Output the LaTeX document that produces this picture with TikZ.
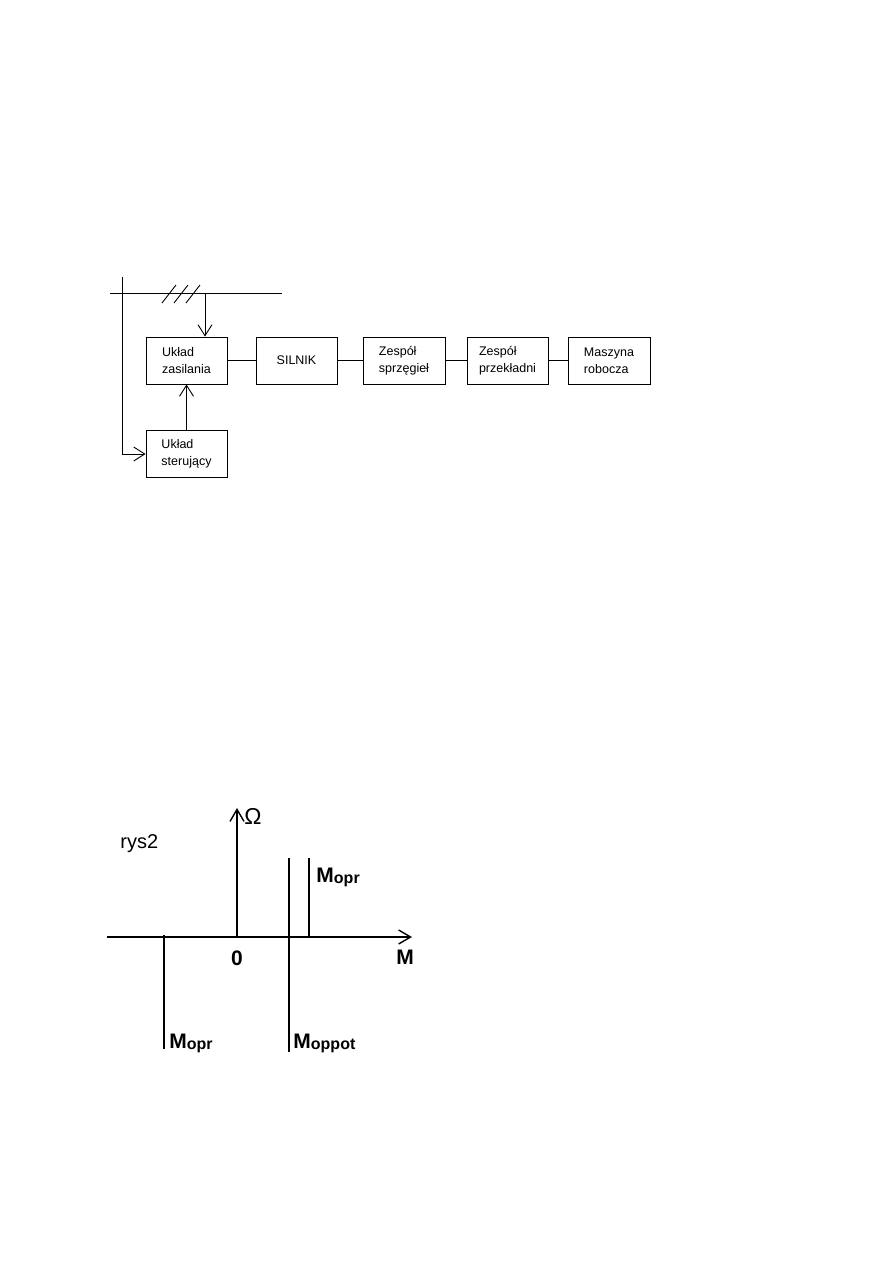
\documentclass[tikz,border=0pt]{standalone}
\usepackage{fontspec}
\setmainfont{Liberation Sans}
\usepackage{tikz}
\usetikzlibrary{arrows.meta, calc, positioning}

\begin{document}
\begin{tikzpicture}[x=1pt, y=-1pt, line width=0.9pt,
    blok/.style={draw, minimum width=81pt, minimum height=47pt, inner sep=0pt,
        align=left, font=\fontsize{12.5}{17}\selectfont},
    strz/.style={-{Straight Barb[length=11pt, width=14pt, line width=0.9pt]}},
    os/.style={line width=2pt, -{Straight Barb[length=12pt, width=14pt, line width=1.4pt]}},
    kreska/.style={line width=2pt},
    etyk/.style={font=\fontsize{21}{21}\selectfont\bfseries, inner sep=0pt, anchor=base west},
    indeks/.style={font=\fontsize{16}{16}\selectfont\bfseries}]
    \useasboundingbox (0, 0) rectangle (893, 1263);

    % schemat blokowy
    \node[blok] (zas) at (186.5, 360.5) {Układ\\zasilania};
    \node[blok] (sil) at (296.5, 360.5) {SILNIK};
    \node[blok, minimum width=82pt] (sprz) at (404, 360.5) {Zespół\\sprzęgieł};
    \node[blok] (przek) at (507.5, 360.5) {Zespół\\przekładni};
    \node[blok, minimum width=82pt] (masz) at (609, 360.5) {Maszyna\\robocza};
    \node[blok] (ster) at (186.5, 454) {Układ\\sterujący};

    % linie miedzy blokami
    \draw (zas.east) -- (sil.west);
    \draw (sil.east) -- (sprz.west);
    \draw (sprz.east) -- (przek.west);
    \draw (przek.east) -- (masz.west);

    % siec zasilajaca
    \coordinate (sieL) at (110, 293);
    \coordinate (sieP) at (282, 293);
    \coordinate (odg) at (205, 293);
    \coordinate (lewyG) at (122, 277);
    \draw (sieL) -- (sieP);
    \foreach \dx in {0, 12, 24}
        \draw ($(162, 303) + (\dx, 0)$) -- ++(14, -18);
    \draw[strz] (odg) -- (odg |- zas.north);
    \draw[strz] (lewyG) |- (ster.west);
    \draw[strz] (ster.north) -- (zas.south);

    % wykres rys2
    \coordinate (O) at (237, 937);
    \coordinate (osXL) at (107, 937);
    \coordinate (osXP) at (412, 937);
    \coordinate (osYG) at (237, 808);
    \draw[os] (osXL) -- (osXP);
    \draw[os] (O) -- (osYG);
    \node[font=\fontsize{23}{23}\selectfont, inner sep=0pt, anchor=base west] (omega) at (244, 824) {Ω};
    \node[font=\fontsize{20}{20}\selectfont, inner sep=0pt, anchor=base west] (rys) at (120, 848) {rys2};
    \node[etyk, anchor=base] (zero) at (237, 965) {0};
    \node[etyk, anchor=base] (osM) at (405, 964) {M};

    % momenty
    \draw[kreska] (289, 858) -- (289, 1052);
    \draw[kreska] (309, 858) -- (309, 937);
    \draw[kreska] (164, 935) -- (164, 1049);
    \node[etyk] (mopr1) at (316, 882) {M\raisebox{-1pt}{\fontsize{16}{16}\selectfont opr}};
    \node[etyk] (mopr2) at (169, 1048) {M\raisebox{-1pt}{\fontsize{16}{16}\selectfont opr}};
    \node[etyk] (moppot) at (293, 1048) {M\raisebox{-1pt}{\fontsize{16}{16}\selectfont oppot}};
\end{tikzpicture}
\end{document}
